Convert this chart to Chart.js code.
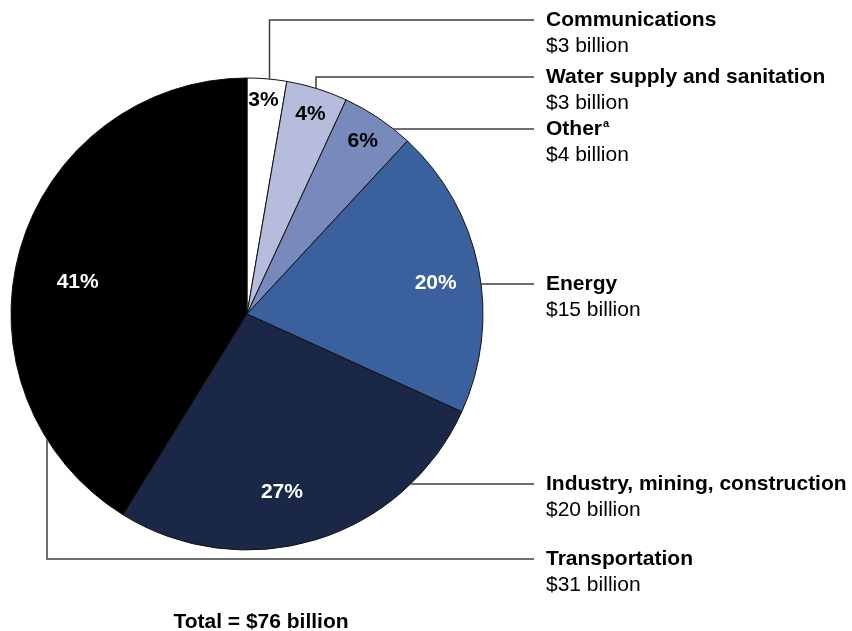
<!DOCTYPE html>
<html>
<head>
<meta charset="utf-8">
<script src="https://cdn.jsdelivr.net/npm/chart.js@4.4.1/dist/chart.umd.min.js"></script>
<style>
  body { margin: 0; background: #fff; }
  #wrap { width: 852px; height: 631px; position: relative; }
</style>
</head>
<body>
<div id="wrap"><canvas id="pie"></canvas></div>
<script>
// sectors, clockwise from 12 o'clock
const sectors = ['Communications', 'Water supply and sanitation', 'Other', 'Energy',
                 'Industry, mining, construction', 'Transportation'];
const shares = [2.7, 4.2, 5.0, 19.9, 27.0, 41.2];          // percent of total (slice size)
const pctLabels = ['3%', '4%', '6%', '20%', '27%', '41%'];
const amounts = ['$3 billion', '$3 billion', '$4 billion', '$15 billion', '$20 billion', '$31 billion'];
const footnotes = ['', '', 'a', '', '', ''];
const totalLabel = 'Total = $76 billion';

const sliceColors = ['#ffffff', '#b7bbdc', '#7889bb', '#3a609e', '#1a2747', '#000000'];
const pctColors = ['#000', '#000', '#000', '#fff', '#fff', '#fff'];

// label placement (callouts)
const calloutStyle = {
    textX: 546,
    lineEndX: 534,
    nameY: [20, 77, 129, 284, 484, 559],
    // 'v' = vertical drop from arc at given x, then across; 'h' = straight across from arc edge
    kind: ['v', 'v', 'h', 'h', 'h', 'v'],
    vx: [269.5, 316, null, null, null, 47],
    pctRadius: [0.91, 0.89, 0.88, 0.81, 0.77, 0.73],
    pctAngle: [0.45, 0.52, 0.5, 0.53, 0.56, 0.465]   // position along the slice's sweep
};

const FONT = '"Liberation Sans", Arial, sans-serif';

const calloutPlugin = {
    id: 'callouts',
    afterDatasetsDraw(chart) {
        const ctx = chart.ctx;
        const arcs = chart.getDatasetMeta(0).data;
        const cs = calloutStyle;
        ctx.save();

        // percent labels inside slices
        ctx.textAlign = 'center';
        ctx.textBaseline = 'middle';
        ctx.font = 'bold 21px ' + FONT;
        arcs.forEach((arc, i) => {
            const p = arc.getProps(['x', 'y', 'startAngle', 'endAngle', 'outerRadius']);
            const a = p.startAngle + (p.endAngle - p.startAngle) * cs.pctAngle[i];
            const r = p.outerRadius * cs.pctRadius[i];
            ctx.fillStyle = pctColors[i];
            ctx.fillText(pctLabels[i], p.x + Math.cos(a) * r, p.y + Math.sin(a) * r);
        });

        // leader lines
        ctx.strokeStyle = '#404040';
        ctx.lineWidth = 1.5;
        arcs.forEach((arc, i) => {
            const p = arc.getProps(['x', 'y', 'outerRadius']);
            const y = cs.nameY[i];
            ctx.beginPath();
            if (cs.kind[i] === 'h') {
                const dx = Math.sqrt(Math.max(p.outerRadius ** 2 - (y - p.y) ** 2, 0));
                ctx.moveTo(p.x + dx, y);
            } else {
                const x = cs.vx[i];
                const dy = Math.sqrt(Math.max(p.outerRadius ** 2 - (x - p.x) ** 2, 0));
                const yEdge = y < p.y ? p.y - dy : p.y + dy;
                ctx.moveTo(x, yEdge);
                ctx.lineTo(x, y);
            }
            ctx.lineTo(cs.lineEndX, y);
            ctx.stroke();
        });

        // sector names and amounts
        ctx.textAlign = 'left';
        ctx.fillStyle = '#000';
        sectors.forEach((name, i) => {
            const y = cs.nameY[i];
            ctx.font = 'bold 21px ' + FONT;
            ctx.fillText(name, cs.textX, y);
            if (footnotes[i]) {
                const w = ctx.measureText(name).width;
                ctx.font = 'bold 11px ' + FONT;
                ctx.fillText(footnotes[i], cs.textX + w + 1, y - 5);
            }
            ctx.font = '21px ' + FONT;
            ctx.fillText(amounts[i], cs.textX, y + 26);
        });

        // total
        ctx.textAlign = 'center';
        ctx.font = 'bold 21px ' + FONT;
        ctx.fillText(totalLabel, 261, 622);
        ctx.restore();
    }
};

new Chart(document.getElementById('pie'), {
    type: 'pie',
    data: {
        labels: sectors,
        datasets: [{
            data: shares,
            backgroundColor: sliceColors,
            borderColor: '#111',
            borderWidth: 1
        }]
    },
    options: {
        responsive: true,
        maintainAspectRatio: false,
        animation: false,
        radius: 236,
        layout: { padding: { left: 0, right: 358, top: 78, bottom: 81 } },
        plugins: {
            legend: { display: false },
            tooltip: { enabled: false }
        }
    },
    plugins: [calloutPlugin]
});
</script>
</body>
</html>
